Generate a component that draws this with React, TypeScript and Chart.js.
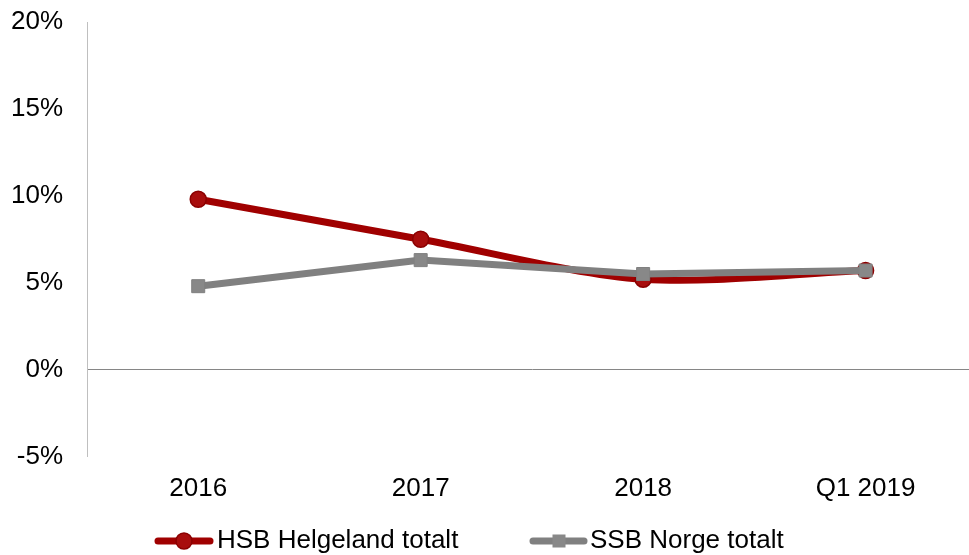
import React, { useEffect, useRef } from "react";
import { Chart, registerables } from "chart.js";

Chart.register(...registerables);

const categories = ["2016", "2017", "2018", "Q1 2019"];
const hsbValues = [9.8, 7.5, 5.2, 5.7];
const ssbValues = [4.8, 6.3, 5.5, 5.7];
const seriesNames = ["HSB Helgeland totalt", "SSB Norge totalt"];
const yTicks = { min: -5, max: 20, step: 5 };

const RED = "#A00000";
const GRAY = "#808080";
const FONT = '"Liberation Sans", Arial, sans-serif';

const legendPlugin = {
  id: "customLegend",
  afterDraw(chart: any) {
    const ctx = chart.ctx;
    const y = 541;
    ctx.save();
    ctx.lineCap = "round";
    ctx.lineWidth = 7;
    ctx.strokeStyle = RED;
    ctx.beginPath();
    ctx.moveTo(158, y);
    ctx.lineTo(210, y);
    ctx.stroke();
    ctx.beginPath();
    ctx.arc(184, y, 8, 0, Math.PI * 2);
    ctx.fillStyle = "#A80D0D";
    ctx.fill();
    ctx.lineWidth = 1.5;
    ctx.strokeStyle = "#8B0000";
    ctx.stroke();
    ctx.lineWidth = 7;
    ctx.strokeStyle = GRAY;
    ctx.beginPath();
    ctx.moveTo(533, y);
    ctx.lineTo(584, y);
    ctx.stroke();
    ctx.fillStyle = "#888888";
    ctx.fillRect(559 - 6.5, y - 6.5, 13, 13);
    ctx.fillStyle = "#000000";
    ctx.font = `26px ${FONT}`;
    ctx.textBaseline = "middle";
    ctx.textAlign = "left";
    ctx.fillText(seriesNames[0], 217, y);
    ctx.fillText(seriesNames[1], 590, y);
    ctx.restore();
  },
};

export default function App() {
  const ref = useRef<HTMLCanvasElement>(null);

  useEffect(() => {
    if (!ref.current) return;
    const chart = new Chart(ref.current, {
      type: "line",
      data: {
        labels: categories,
        datasets: [
          {
            label: seriesNames[0],
            data: hsbValues,
            borderColor: RED,
            backgroundColor: RED,
            borderWidth: 7,
            tension: 0.3,
            pointStyle: "circle",
            pointRadius: 8,
            pointBackgroundColor: "#A80D0D",
            pointBorderColor: "#8B0000",
            pointBorderWidth: 1.5,
            order: 1,
          },
          {
            label: seriesNames[1],
            data: ssbValues,
            borderColor: GRAY,
            backgroundColor: GRAY,
            borderWidth: 7,
            tension: 0,
            pointStyle: "rect",
            pointRadius: 9.2,
            pointBackgroundColor: "#888888",
            pointBorderColor: "#808080",
            pointBorderWidth: 1,
            order: 0,
          },
        ],
      },
      options: {
        responsive: false,
        animation: false,
        layout: { padding: { top: 22, right: 0, bottom: 0, left: 0 } },
        plugins: {
          legend: { display: false },
          tooltip: { enabled: false },
        },
        scales: {
          x: {
            offset: true,
            grid: { display: false },
            border: { display: false },
            ticks: {
              color: "#000000",
              font: { family: FONT, size: 26 },
              padding: 9,
              maxRotation: 0,
            },
            afterFit: (s: any) => {
              s.height = 98.5;
            },
          },
          y: {
            min: yTicks.min,
            max: yTicks.max,
            ticks: {
              stepSize: yTicks.step,
              color: "#000000",
              font: { family: FONT, size: 26 },
              padding: 0,
              callback: (v: any) => `${v}%`,
            },
            grid: {
              drawTicks: true,
              tickLength: 24,
              tickColor: "rgba(0,0,0,0)",
              color: (c: any) => (c.tick && c.tick.value === 0 ? "#868686" : "rgba(0,0,0,0)"),
              lineWidth: 1,
            },
            border: { display: true, color: "#BFBFBF", width: 1 },
            afterFit: (s: any) => {
              s.width = 87;
            },
          },
        },
      },
      plugins: [legendPlugin],
    });
    return () => chart.destroy();
  }, []);

  return (
    <div style={{ position: "fixed", left: 0, top: 0, width: 969, height: 555, overflow: "hidden", background: "#fff" }}>
      <canvas ref={ref} width={987} height={555} style={{ display: "block" }} />
    </div>
  );
}
